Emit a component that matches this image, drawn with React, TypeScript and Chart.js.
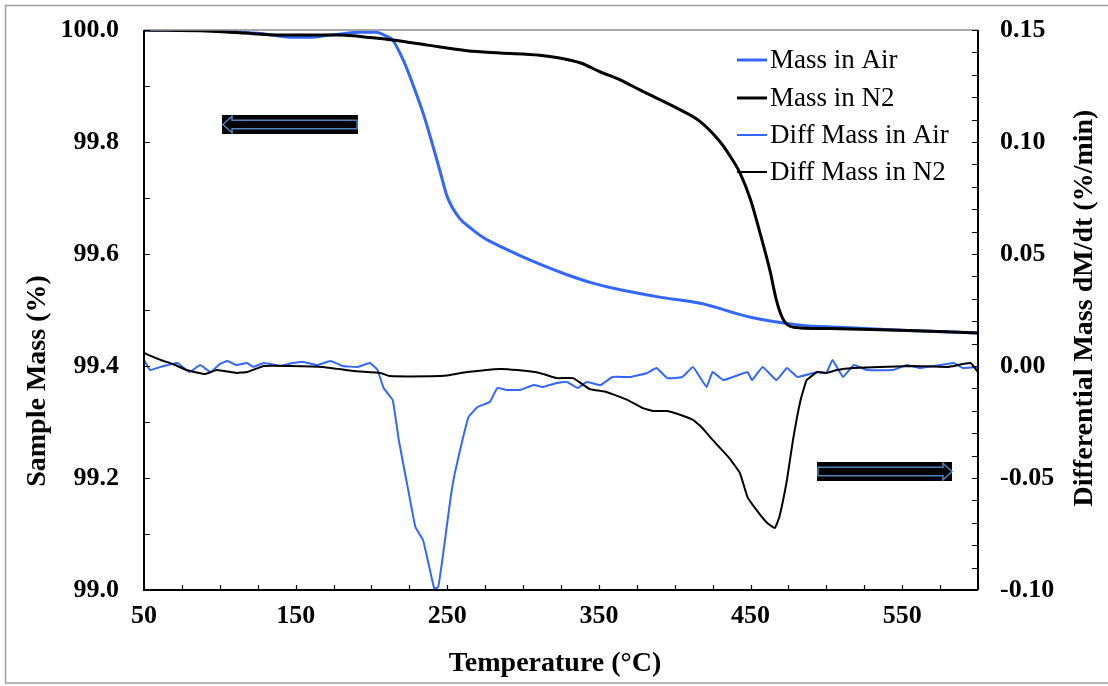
import React, { useEffect, useRef } from "react";
import { Chart, registerables } from "chart.js";

Chart.register(...registerables);

const FONT = '"Liberation Serif", "Times New Roman", serif';
const BLUE = "#3366FF";
const BLACK = "#000000";
const ARROW_BLUE = "#4F81BD";

// Tick labels
const xTickValues = [50, 150, 250, 350, 450, 550];
const xMin = 50;
const xMax = 600;
const leftMin = 99.0;
const leftMax = 100.0;
const rightMin = -0.1;
const rightMax = 0.15;

// Series names
const seriesLabels = ["Mass in Air", "Mass in N2", "Diff Mass in Air", "Diff Mass in N2"];

// Mass in Air (%), left axis
const massAirTemp = [50, 75, 100, 125, 140, 150, 160, 170, 180, 192, 203, 209, 214, 221, 227, 234, 240, 245, 250, 258, 266, 274, 287, 309, 329, 346, 364, 390, 417, 450, 483, 509, 549, 600];
const massAirValues = [100.0, 100.0, 99.998, 99.994, 99.989, 99.987, 99.987, 99.99, 99.993, 99.996, 99.996, 99.99, 99.982, 99.946, 99.905, 99.852, 99.798, 99.75, 99.702, 99.664, 99.645, 99.629, 99.611, 99.584, 99.563, 99.548, 99.536, 99.523, 99.512, 99.487, 99.473, 99.469, 99.464, 99.459];

// Mass in N2 (%), left axis
const massN2Temp = [50, 92, 113, 140, 179, 201, 214, 237, 263, 285, 311, 324, 338, 351, 364, 377, 404, 417, 430, 436, 443, 450, 456, 463, 467, 471, 476, 483, 502, 549, 600];
const massN2Values = [100.0, 99.998, 99.995, 99.991, 99.991, 99.986, 99.982, 99.973, 99.963, 99.959, 99.955, 99.95, 99.941, 99.925, 99.911, 99.893, 99.857, 99.836, 99.8, 99.777, 99.745, 99.697, 99.64, 99.568, 99.518, 99.486, 99.471, 99.468, 99.467, 99.464, 99.459];

// Diff Mass in Air (%/min), right axis
const diffAirTemp = [50, 54, 61, 72, 80, 87, 94, 100, 105, 111, 118, 122, 129, 140, 148, 155, 164, 173, 181, 191, 199, 204, 208, 214, 218, 223, 229, 234, 239, 241.5, 244, 247, 252, 255, 260, 264, 270, 278, 283, 289, 298, 307, 313, 322, 329, 336, 342, 351, 359, 371, 382, 388, 395, 405, 412, 417, 421, 425, 432, 448, 451, 458, 467, 474, 481, 494, 500, 504, 511, 518, 527, 544, 553, 562, 575, 584, 590, 600];
const diffAirValues = [0.0027, -0.0018, -0.0004, 0.0013, -0.0027, 0.0004, -0.0027, 0.0009, 0.0022, 0.0004, 0.0013, -0.0004, 0.0013, 0.0, 0.0013, 0.0018, 0.0004, 0.0022, 0.0, -0.0004, 0.0013, -0.0018, -0.0098, -0.0152, -0.033, -0.0509, -0.0719, -0.0777, -0.0924, -0.0995, -0.0987, -0.0853, -0.0598, -0.0478, -0.033, -0.0228, -0.0183, -0.0161, -0.0098, -0.0107, -0.0107, -0.0085, -0.0094, -0.0076, -0.0071, -0.0098, -0.0071, -0.0085, -0.0049, -0.0049, -0.0031, -0.0009, -0.0054, -0.0049, -0.0004, -0.0054, -0.0094, -0.0027, -0.0063, -0.0027, -0.0063, -0.0004, -0.0063, -0.0009, -0.0049, -0.0027, -0.0031, 0.0027, -0.0049, 0.0004, -0.0018, -0.0018, 0.0004, -0.0009, 0.0004, 0.0013, -0.0009, -0.0004];

// Diff Mass in N2 (%/min), right axis
const diffN2Temp = [50, 61, 69, 78, 90, 98, 111, 118, 129, 146, 168, 188, 206, 212, 245, 252, 263, 285, 296, 311, 322, 333, 344, 355, 369, 379, 386, 395, 404, 412, 417, 425, 436, 443, 448, 454, 461, 466, 469, 474, 478, 483, 487, 494, 500, 507, 518, 535, 557, 580, 595, 600];
const diffN2Values = [0.0058, 0.0027, 0.0009, -0.0018, -0.0036, -0.0018, -0.0031, -0.0027, 0.0, 0.0, -0.0004, -0.0022, -0.0031, -0.0045, -0.0045, -0.004, -0.0027, -0.0013, -0.0018, -0.0031, -0.0054, -0.0054, -0.0103, -0.0116, -0.0152, -0.0188, -0.0201, -0.0201, -0.0219, -0.0241, -0.0268, -0.033, -0.0411, -0.0478, -0.0585, -0.0643, -0.0701, -0.0723, -0.0674, -0.0509, -0.033, -0.0152, -0.0063, -0.0027, -0.0031, -0.0018, -0.0009, -0.0004, 0.0, -0.0004, 0.0013, -0.0027];

const toPoints = (xs: number[], ys: number[]) => xs.map((x, i) => ({ x, y: ys[i] }));

const decorPlugin = {
  id: "decor",
  afterDatasetsDraw(chart: any) {
    const { ctx, chartArea: a, scales } = chart;
    const xs = scales.x;
    const yl = scales.y;
    const yr = scales.y1;
    ctx.save();
    ctx.strokeStyle = "#8c8c8c";
    ctx.lineWidth = 1.5;
    ctx.beginPath();
    ctx.moveTo(a.left, a.top);
    ctx.lineTo(a.right, a.top);
    ctx.stroke();
    ctx.strokeStyle = "#000";
    ctx.lineWidth = 2;
    ctx.beginPath();
    ctx.moveTo(a.left, a.top);
    ctx.lineTo(a.left, a.bottom);
    ctx.lineTo(a.right, a.bottom);
    ctx.moveTo(a.right, a.top);
    ctx.lineTo(a.right, a.bottom);
    ctx.stroke();
    ctx.lineWidth = 1.2;
    ctx.beginPath();
    for (let v = xMin; v <= xMax + 0.001; v += 25) {
      const px = Math.round(xs.getPixelForValue(v)) + 0.5;
      ctx.moveTo(px, a.bottom);
      ctx.lineTo(px, a.bottom - 5);
    }
    for (let i = 0; i <= 10; i++) {
      const py = Math.round(yl.getPixelForValue(leftMin + i * 0.1)) + 0.5;
      ctx.moveTo(a.left, py);
      ctx.lineTo(a.left + 6, py);
    }
    for (let i = 0; i <= 25; i++) {
      const py = Math.round(yr.getPixelForValue(rightMin + i * 0.01)) + 0.5;
      ctx.moveTo(a.right, py);
      ctx.lineTo(a.right - 6, py);
    }
    ctx.stroke();
    ctx.restore();
  },
  afterDraw(chart: any) {
    const { ctx } = chart;
    ctx.save();
    ctx.strokeStyle = "#a0a0a0";
    ctx.lineWidth = 1.5;
    ctx.strokeRect(5.5, 5.5, 1110, 677.5);

    ctx.fillStyle = "#000";
    ctx.font = `bold 28px ${FONT}`;
    ctx.textAlign = "center";
    ctx.textBaseline = "middle";
    ctx.fillText("Temperature (°C)", 555, 664);
    ctx.save();
    ctx.translate(38, 381);
    ctx.rotate(-Math.PI / 2);
    ctx.fillText("Sample Mass (%)", 0, 0);
    ctx.restore();
    ctx.save();
    ctx.translate(1085, 308);
    ctx.rotate(-Math.PI / 2);
    ctx.fillText("Differential Mass dM/dt (%/min)", 0, 0);
    ctx.restore();

    const rows = [60, 98, 135, 172];
    const colors = [BLUE, BLACK, BLUE, BLACK];
    const widths = [3, 3, 2, 2];
    ctx.font = `27px ${FONT}`;
    ctx.textAlign = "left";
    seriesLabels.forEach((label, i) => {
      ctx.strokeStyle = colors[i];
      ctx.lineWidth = widths[i];
      ctx.beginPath();
      ctx.moveTo(737, rows[i]);
      ctx.lineTo(767, rows[i]);
      ctx.stroke();
      ctx.fillStyle = "#000";
      ctx.fillText(label, 770, rows[i] + 1);
    });

    const drawArrow = (bx: number, by: number, bw: number, bh: number, dir: number) => {
      ctx.fillStyle = "#000";
      ctx.fillRect(bx, by, bw, bh);
      ctx.strokeStyle = ARROW_BLUE;
      ctx.lineWidth = 1.5;
      const cy = by + bh / 2;
      const headLen = 9;
      const shaftHalf = 4.2;
      const headHalf = 8.3;
      ctx.beginPath();
      if (dir < 0) {
        const tip = bx + 1;
        const base = tip + headLen;
        const end = bx + bw - 1;
        ctx.moveTo(tip, cy);
        ctx.lineTo(base, cy - headHalf);
        ctx.lineTo(base, cy - shaftHalf);
        ctx.lineTo(end, cy - shaftHalf);
        ctx.lineTo(end, cy + shaftHalf);
        ctx.lineTo(base, cy + shaftHalf);
        ctx.lineTo(base, cy + headHalf);
      } else {
        const tip = bx + bw;
        const base = tip - headLen;
        const start = bx + 1;
        ctx.moveTo(tip, cy);
        ctx.lineTo(base, cy - headHalf);
        ctx.lineTo(base, cy - shaftHalf);
        ctx.lineTo(start, cy - shaftHalf);
        ctx.lineTo(start, cy + shaftHalf);
        ctx.lineTo(base, cy + shaftHalf);
        ctx.lineTo(base, cy + headHalf);
      }
      ctx.closePath();
      ctx.stroke();
    };
    drawArrow(222, 115, 136, 19, -1);
    drawArrow(817, 462, 135, 19, 1);
    ctx.restore();
  },
};

export default function App() {
  const canvasRef = useRef<HTMLCanvasElement | null>(null);

  useEffect(() => {
    if (!canvasRef.current) return;
    const chart = new Chart(canvasRef.current, {
      type: "line",
      data: {
        datasets: [
          {
            label: seriesLabels[0],
            data: toPoints(massAirTemp, massAirValues),
            borderColor: BLUE,
            borderWidth: 3,
            pointRadius: 0,
            cubicInterpolationMode: "monotone",
            yAxisID: "y",
            order: 3,
          },
          {
            label: seriesLabels[1],
            data: toPoints(massN2Temp, massN2Values),
            borderColor: BLACK,
            borderWidth: 3,
            pointRadius: 0,
            cubicInterpolationMode: "monotone",
            yAxisID: "y",
            order: 1,
          },
          {
            label: seriesLabels[2],
            data: toPoints(diffAirTemp, diffAirValues),
            borderColor: BLUE,
            borderWidth: 2,
            pointRadius: 0,
            tension: 0.1,
            yAxisID: "y1",
            order: 4,
          },
          {
            label: seriesLabels[3],
            data: toPoints(diffN2Temp, diffN2Values),
            borderColor: BLACK,
            borderWidth: 2,
            pointRadius: 0,
            tension: 0.1,
            yAxisID: "y1",
            order: 2,
          },
        ],
      },
      options: {
        animation: false,
        responsive: false,
        maintainAspectRatio: false,
        layout: { padding: { top: 30, left: 0, right: 0, bottom: 0 } },
        plugins: { legend: { display: false }, tooltip: { enabled: false } },
        scales: {
          x: {
            type: "linear",
            position: "bottom",
            min: xMin,
            max: xMax,
            grid: { display: false, drawTicks: false },
            border: { display: false },
            afterBuildTicks: (s: any) => {
              s.ticks = xTickValues.map((v) => ({ value: v }));
            },
            afterFit: (s: any) => {
              s.height = 96;
              s.paddingLeft = 0;
              s.paddingRight = 0;
            },
            ticks: {
              autoSkip: false,
              maxRotation: 0,
              padding: 11,
              color: "#000",
              font: { family: FONT, size: 26, weight: "bold" },
              callback: (v: any) => String(v),
            },
          },
          y: {
            type: "linear",
            position: "left",
            min: leftMin,
            max: leftMax,
            grid: { display: false, drawTicks: false },
            border: { display: false },
            afterFit: (s: any) => {
              s.width = 144;
              s.paddingTop = 0;
              s.paddingBottom = 0;
            },
            ticks: {
              stepSize: 0.2,
              padding: 25,
              color: "#000",
              font: { family: FONT, size: 26, weight: "bold" },
              callback: (v: any) => Number(v).toFixed(1),
            },
          },
          y1: {
            type: "linear",
            position: "right",
            min: rightMin,
            max: rightMax,
            grid: { display: false, drawTicks: false },
            border: { display: false },
            afterFit: (s: any) => {
              s.width = 130;
              s.paddingTop = 0;
              s.paddingBottom = 0;
            },
            ticks: {
              stepSize: 0.05,
              padding: 22,
              color: "#000",
              font: { family: FONT, size: 26, weight: "bold" },
              callback: (v: any) => Number(v).toFixed(2),
            },
          },
        },
      },
      plugins: [decorPlugin],
    } as any);
    return () => chart.destroy();
  }, []);

  return (
    <div style={{ position: "fixed", left: 0, top: 0, width: 1108, height: 686, background: "#fff" }}>
      <canvas ref={canvasRef} width={1108} height={686} style={{ display: "block", width: 1108, height: 686 }} />
    </div>
  );
}
